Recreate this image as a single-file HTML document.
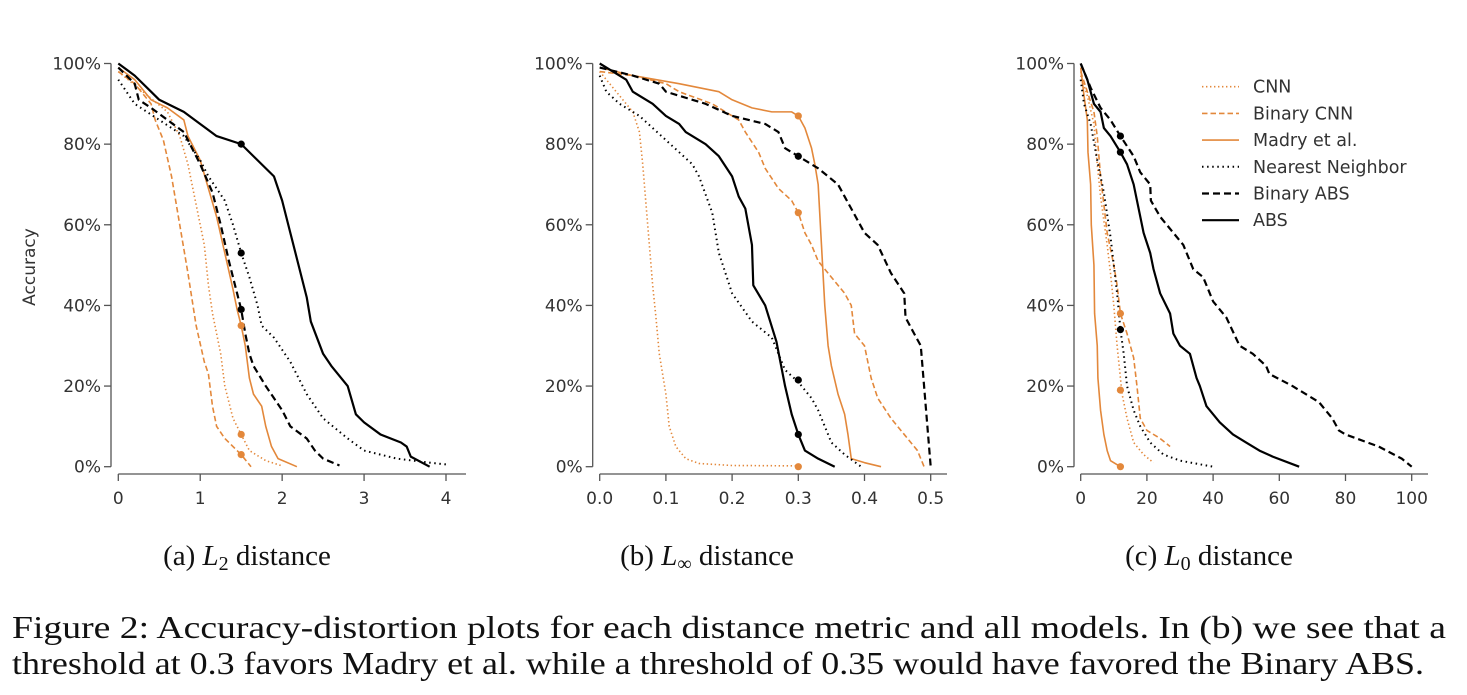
<!DOCTYPE html>
<html><head><meta charset="utf-8"><style>
html,body{margin:0;padding:0;background:#fff;}
svg{display:block;}
</style></head><body>
<svg id="fig" width="1467" height="695" viewBox="0 0 1467 695" xmlns="http://www.w3.org/2000/svg">
<g id="panels"></g>
<g font-family="DejaVu Sans, Liberation Sans, sans-serif" font-size="17.5" fill="#333" id="legend"></g>
<g font-family="Liberation Serif, serif" fill="#111">
<text x="247" y="565" font-size="29" text-anchor="middle">(a) <tspan font-style="italic">L</tspan><tspan font-size="20" dy="5">2</tspan><tspan dy="-5"> distance</tspan></text>
<text x="707" y="565" font-size="29" text-anchor="middle">(b) <tspan font-style="italic">L</tspan><tspan font-size="20" dy="5">∞</tspan><tspan dy="-5"> distance</tspan></text>
<text x="1209" y="565" font-size="29" text-anchor="middle">(c) <tspan font-style="italic">L</tspan><tspan font-size="20" dy="5">0</tspan><tspan dy="-5"> distance</tspan></text>
<text x="12" y="638" font-size="32" textLength="1434" lengthAdjust="spacingAndGlyphs">Figure 2:  Accuracy-distortion plots for each distance metric and all models.  In (b) we see that a</text>
<text x="12" y="674" font-size="32" textLength="1412" lengthAdjust="spacingAndGlyphs">threshold at 0.3 favors Madry et al. while a threshold of 0.35 would have favored the Binary ABS.</text>
</g>
</svg>
<script>
// ---- data ----
const seriesNames = ["CNN","Binary CNN","Madry et al.","Nearest Neighbor","Binary ABS","ABS"];
// Panel A (L2)
const a_cnn  = [[0,98],[0.3,93],[0.6,88],[0.75,82],[0.85,75],[0.95,65],[1.05,55],[1.1,45],[1.15,38],[1.25,28],[1.3,20],[1.4,12],[1.5,8],[1.6,4],[1.8,1.5],[2.0,0.2]];
const a_bcnn = [[0,98],[0.2,95],[0.4,90],[0.45,86],[0.55,81],[0.65,72],[0.75,60],[0.85,48],[0.95,35],[1.05,26],[1.1,23],[1.15,15],[1.2,10],[1.3,7],[1.5,3],[1.62,0]];
const a_madry= [[0,99],[0.2,96],[0.4,91],[0.6,89],[0.8,86],[0.85,82],[1.0,76],[1.1,69],[1.2,62],[1.3,53],[1.4,44],[1.45,39],[1.5,35],[1.55,30],[1.6,22],[1.65,18],[1.75,15],[1.8,10],[1.87,5],[1.95,2],[2.18,0]];
const a_nn   = [[0,96],[0.1,93],[0.2,90],[0.5,86],[0.8,82],[1.0,76],[1.1,72],[1.3,66],[1.4,60],[1.5,53],[1.6,47],[1.7,40],[1.75,35],[1.9,32],[2.1,26],[2.3,18],[2.5,12],[2.8,7],[3.0,4],[3.4,2],[3.8,1],[4.03,0.5]];
const a_babs = [[0,99],[0.2,95],[0.25,91],[0.4,89],[0.6,86],[0.8,83],[1.0,75],[1.15,68],[1.25,60],[1.35,51],[1.45,43],[1.5,39],[1.55,33],[1.6,28],[1.65,25],[1.8,20],[1.9,17],[2.0,14],[2.1,10],[2.3,7],[2.4,4],[2.5,2],[2.7,0.3]];
const a_abs  = [[0,100],[0.2,97],[0.4,93],[0.5,91],[0.8,88],[1.0,85],[1.2,82],[1.5,80],[1.7,76],[1.9,72],[2.0,66],[2.1,58],[2.2,50],[2.3,42],[2.35,36],[2.5,28],[2.6,25],[2.8,20],[2.9,13],[3.0,11],[3.2,8],[3.45,6],[3.52,5],[3.57,2.5],[3.8,0]];
const a_markerX = 1.5;
const a_markers = [8,3,35,53,39,80];
const a_xticks = [0,1,2,3,4];
const a_xtickLabels = ["0","1","2","3","4"];
// Panel B (Linf)
const b_cnn  = [[0,98],[0.01,96],[0.03,92],[0.05,88],[0.06,83],[0.065,75],[0.07,65],[0.075,55],[0.08,45],[0.085,37],[0.09,28],[0.1,18],[0.105,10],[0.115,5],[0.13,2],[0.15,0.8],[0.2,0.3],[0.3,0.2]];
const b_bcnn = [[0,98],[0.05,97],[0.1,95],[0.12,93],[0.17,90],[0.21,86],[0.22,83],[0.24,78],[0.25,74],[0.27,69],[0.29,66],[0.3,63],[0.31,58],[0.32,55],[0.33,51],[0.35,47],[0.37,43],[0.38,40],[0.385,33],[0.4,30],[0.41,22],[0.42,17],[0.44,12],[0.46,8],[0.48,4],[0.49,0]];
const b_madry= [[0,99],[0.05,97],[0.12,95],[0.18,93],[0.2,91],[0.23,89],[0.26,88],[0.29,88],[0.3,87],[0.31,84],[0.32,79],[0.325,75],[0.33,70],[0.335,55],[0.34,40],[0.345,30],[0.35,25],[0.36,18],[0.37,13],[0.375,8],[0.38,2],[0.4,1],[0.425,0]];
const b_nn   = [[0,97],[0.01,93],[0.03,90],[0.06,87],[0.1,81],[0.14,75],[0.15,72],[0.17,63],[0.18,53],[0.2,43],[0.23,36],[0.26,32],[0.27,28],[0.28,24],[0.3,21],[0.32,17],[0.33,14],[0.35,6],[0.37,3],[0.395,0]];
const b_babs = [[0,99],[0.05,97],[0.09,95],[0.1,93],[0.16,90],[0.2,87],[0.25,85],[0.27,83],[0.28,79],[0.3,77],[0.33,74],[0.36,70],[0.37,67],[0.38,64],[0.4,58],[0.42,55],[0.44,48],[0.46,43],[0.462,37],[0.475,33],[0.485,30],[0.49,20],[0.495,10],[0.5,0]];
const b_abs  = [[0,100],[0.02,98],[0.04,96],[0.05,93],[0.08,90],[0.1,87],[0.12,85],[0.13,83],[0.16,80],[0.18,77],[0.2,72],[0.21,67],[0.22,64],[0.23,55],[0.232,45],[0.25,40],[0.267,31],[0.28,20],[0.29,13],[0.3,8],[0.31,4],[0.33,2],[0.355,0]];
const b_markerX = 0.3;
const b_markers = [0,63,87,21.5,77,8];
const b_xticks = [0,0.1,0.2,0.3,0.4,0.5];
const b_xtickLabels = ["0.0","0.1","0.2","0.3","0.4","0.5"];
// Panel C (L0)
const c_cnn  = [[0,97],[2,92],[4,85],[5,75],[6,67],[8,55],[9,48],[10,40],[11,30],[12,22],[12.5,18],[14,12],[16,6],[19,3],[22,1]];
const c_bcnn = [[0,98],[2,93],[4,88],[5,82],[6,72],[7,65],[8,58],[10,50],[11,45],[12,38],[14,33],[16,27],[17,20],[18,12],[20,9],[24,7],[27,5]];
const c_madry= [[0,99],[1,92],[2,86],[2.2,78],[3,70],[3.2,60],[4,50],[4.2,38],[5,30],[5.2,22],[6,14],[7,8],[8,4],[9,1.5],[12,0]];
const c_nn   = [[0,96],[1,90],[3,85],[5,76],[7,68],[9,57],[10,50],[11,43],[12,34],[13,28],[14,20],[16,14],[18,10],[21,6],[25,3],[30,1.5],[40,0]];
const c_babs = [[0,100],[3,94],[6,89],[9,86],[12,82],[16,77],[18,73],[21,70],[21.2,66],[24,62],[28,58],[31,55],[34,49],[37,47],[40,41],[44,37],[48,30],[52,28],[56,25],[57,23],[64,20],[72,16],[76,12],[78,9],[80,8],[90,5],[97,2],[100,0]];
const c_abs  = [[0,100],[2,96],[4,90],[6,88],[7,84],[9,82],[12,78],[14,75],[16,70],[17,66],[19,58],[21,53],[22,49],[24,43],[27,38],[28,33],[30,30],[33,28],[35,22],[36,20],[38,15],[42,11],[46,8],[50,6],[54,4],[58,2.5],[66,0]];
const c_markerX = 12;
const c_markers = [19,38,0,34,82,78];
const c_xticks = [0,20,40,60,80,100];
const c_xtickLabels = ["0","20","40","60","80","100"];
const yticks = [0,20,40,60,80,100];
const ytickLabels = ["0%","20%","40%","60%","80%","100%"];

// ---- drawing ----
const NS = "http://www.w3.org/2000/svg";
const ORANGE = "#e3883b";
const styles = [
  {c:ORANGE,w:1.6,d:"1.4 2.6",cap:"butt"},
  {c:ORANGE,w:1.6,d:"5.5 3",cap:"butt"},
  {c:ORANGE,w:1.6,d:"",cap:"butt"},
  {c:"#000",w:2,d:"1.5 3.6",cap:"butt"},
  {c:"#000",w:2.2,d:"7 4",cap:"butt"},
  {c:"#000",w:2.2,d:"",cap:"butt"}
];
const keys = ["cnn","bcnn","madry","nn","babs","abs"];
function mk(tag, attrs, parent){const e=document.createElementNS(NS,tag);for(const k in attrs)e.setAttribute(k,attrs[k]);parent.appendChild(e);return e;}
const panels = [
  {id:"a",spineX:111,x0:118.3,xMax:4,x1:446,xEnd:466,data:[a_cnn,a_bcnn,a_madry,a_nn,a_babs,a_abs],mx:a_markerX,mk:a_markers,xt:a_xticks,xl:a_xtickLabels,ylabel:true},
  {id:"b",spineX:592.7,x0:599.7,xMax:0.5,x1:930.7,xEnd:947,data:[b_cnn,b_bcnn,b_madry,b_nn,b_babs,b_abs],mx:b_markerX,mk:b_markers,xt:b_xticks,xl:b_xtickLabels},
  {id:"c",spineX:1074,x0:1080.7,xMax:100,x1:1411.7,xEnd:1428,data:[c_cnn,c_bcnn,c_madry,c_nn,c_babs,c_abs],mx:c_markerX,mk:c_markers,xt:c_xticks,xl:c_xtickLabels}
];
const Y0=466.7, Y100=63.5, XAXY=474;
const yS = v => Y0 + (Y100-Y0)*v/100;
const root = document.getElementById("panels");
panels.forEach(p=>{
  const xS = v => p.x0 + (p.x1-p.x0)*v/p.xMax;
  const g = mk("g",{},root);
  
  
  const ax = mk("g",{stroke:"#555","stroke-width":1.3},g);
  
  
  mk("line",{x1:p.spineX,y1:Y100,x2:p.spineX,y2:Y0},ax);
  mk("line",{x1:p.x0,y1:XAXY,x2:p.xEnd,y2:XAXY},ax);
  const tg = mk("g",{"font-family":"DejaVu Sans, Liberation Sans, sans-serif","font-size":17,fill:"#333"},g);
  yticks.forEach((t,i)=>{
    mk("line",{x1:p.spineX-7,y1:yS(t),x2:p.spineX,y2:yS(t),stroke:"#555","stroke-width":1.3},ax);
    const tx=mk("text",{x:p.spineX-10,y:yS(t)+6,"text-anchor":"end"},tg);
    
    
    tx.textContent=ytickLabels[i];
  });
  p.xt.forEach((t,i)=>{
    mk("line",{x1:xS(t),y1:XAXY,x2:xS(t),y2:XAXY+7,stroke:"#555","stroke-width":1.3},ax);
    const tx=mk("text",{x:xS(t),y:XAXY+30,"text-anchor":"middle"},tg);
    
    
    tx.textContent=p.xl[i];
  });
  if(p.ylabel){
    const yl=mk("text",{x:0,y:0,transform:"translate(35,267) rotate(-90)","text-anchor":"middle"},tg);
    
    
    yl.textContent="Accuracy";
  }
  p.data.forEach((s,i)=>{
    const st=styles[i];
    const d = s.map((pt,j)=>(j?"L":"M")+xS(pt[0]).toFixed(2)+" "+yS(pt[1]).toFixed(2)).join(" ");
    const path=mk("path",{d:d,fill:"none",stroke:st.c,"stroke-width":st.w,"stroke-dasharray":st.d||"none","stroke-linejoin":"round","stroke-linecap":st.cap},g);
    
    
  });
  p.mk.forEach((v,i)=>{
    const c=mk("circle",{cx:xS(p.mx),cy:yS(v),r:3.6,fill:styles[i].c},g);
    
    
  });
});
// legend
const lg=document.getElementById("legend");
seriesNames.forEach((n,i)=>{
  const y=86.7+i*26.7, st=styles[i];
  const e=mk("g",{},lg);
  
  
  mk("line",{x1:1202,y1:y,x2:1239,y2:y,stroke:st.c,"stroke-width":st.w,"stroke-dasharray":st.d||"none"},e);
  const t=mk("text",{x:1253,y:y+6},e);
  t.textContent=n;
});
</script>
</body></html>
